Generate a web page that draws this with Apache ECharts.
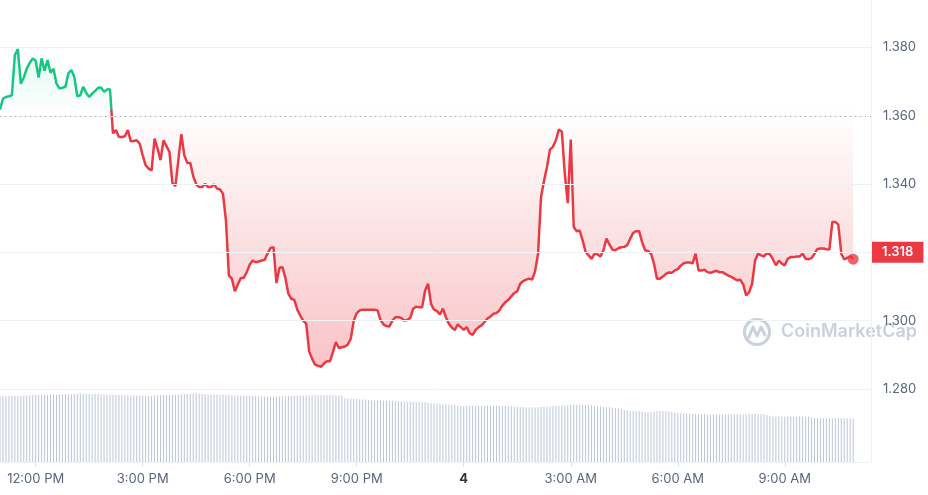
<!DOCTYPE html>
<html>
<head>
<meta charset="utf-8">
<script src="https://cdn.jsdelivr.net/npm/echarts@6/dist/echarts.min.js"></script>
<style>html,body{margin:0;padding:0;background:#fff}#c{width:928px;height:495px}</style>
</head>
<body>
<div id="c"></div>
<script>
// 5-minute samples starting 11:00 AM
const stepMinutes = 5;
const prices = [
1.3618,1.3650,1.3655,1.3657,1.3660,1.3778,1.3795,1.3694,1.3712,1.3738,
1.3755,1.3768,1.3761,1.3712,1.3768,1.3732,1.3763,1.3726,1.3738,1.3694,
1.3680,1.3682,1.3685,1.3724,1.3734,1.3714,1.3657,1.3660,1.3685,1.3667,
1.3655,1.3665,1.3673,1.3682,1.3683,1.3670,1.3677,1.3678,1.3548,1.3558,
1.3538,1.3538,1.3540,1.3558,1.3525,1.3526,1.3528,1.3518,1.3484,1.3455,
1.3445,1.3440,1.3533,1.3504,1.3470,1.3528,1.3511,1.3494,1.3403,1.3394,
1.3470,1.3546,1.3484,1.3462,1.3462,1.3423,1.3399,1.3391,1.3391,1.3401,
1.3391,1.3391,1.3399,1.3387,1.3384,1.3372,1.3294,1.3132,1.3123,1.3086,
1.3106,1.3125,1.3125,1.3142,1.3164,1.3176,1.3171,1.3173,1.3176,1.3178,
1.3196,1.3213,1.3215,1.3110,1.3154,1.3157,1.3125,1.3079,1.3064,1.3061,
1.3032,1.3015,1.3000,1.2991,1.2910,1.2888,1.2871,1.2868,1.2865,1.2875,
1.2881,1.2881,1.2908,1.2937,1.2920,1.2922,1.2924,1.2930,1.2947,1.3000,
1.3022,1.3030,1.3032,1.3032,1.3032,1.3032,1.3032,1.3030,1.3002,1.2989,
1.2984,1.2983,1.3000,1.3010,1.3010,1.3008,1.3000,1.3002,1.3008,1.3035,
1.3041,1.3039,1.3039,1.3088,1.3108,1.3049,1.3032,1.3028,1.3018,1.3035,
1.3010,1.2991,1.2979,1.2973,1.2989,1.2981,1.2973,1.2981,1.2963,1.2958,
1.2973,1.2981,1.2986,1.2996,1.3006,1.3012,1.3020,1.3022,1.3030,1.3044,
1.3054,1.3061,1.3071,1.3081,1.3086,1.3108,1.3116,1.3120,1.3123,1.3120,
1.3145,1.3196,1.3362,1.3409,1.3450,1.3501,1.3509,1.3528,1.3560,1.3553,
1.3430,1.3344,1.3530,1.3274,1.3262,1.3264,1.3235,1.3201,1.3191,1.3181,
1.3196,1.3194,1.3188,1.3206,1.3240,1.3223,1.3208,1.3206,1.3212,1.3215,
1.3216,1.3221,1.3240,1.3257,1.3262,1.3262,1.3230,1.3206,1.3204,1.3196,
1.3167,1.3123,1.3123,1.3129,1.3137,1.3141,1.3140,1.3147,1.3151,1.3161,
1.3168,1.3170,1.3170,1.3168,1.3196,1.3147,1.3147,1.3149,1.3142,1.3140,
1.3143,1.3146,1.3142,1.3142,1.3137,1.3132,1.3128,1.3123,1.3118,1.3120,
1.3106,1.3074,1.3083,1.3108,1.3176,1.3196,1.3191,1.3188,1.3198,1.3194,
1.3180,1.3162,1.3176,1.3167,1.3162,1.3181,1.3186,1.3186,1.3188,1.3188,
1.3196,1.3181,1.3180,1.3183,1.3196,1.3210,1.3211,1.3211,1.3209,1.3208,
1.3289,1.3289,1.3281,1.3196,1.3179,1.3184,1.3188,1.3180
];
const volumes = [
90.2,90.4,90.3,90.5,90.4,90.6,90.5,90.7,90.8,91.0,91.2,
91.5,91.7,91.8,91.9,92.0,92.2,
92.4,92.5,92.6,92.7,92.7,92.8,92.7,92.9,93.0,93.3,
94.1,
93.4,93.3,93.2,93.2,93.1,93.0,
92.6,92.4,92.2,92.0,91.9,91.8,91.8,91.7,91.6,91.5,91.4,91.2,91.0,
90.9,90.8,90.8,90.7,90.8,91.0,91.2,
91.5,91.7,91.8,91.9,92.1,92.3,92.5,92.8,
93.0,93.2,93.4,93.6,94.1,93.5,
93.0,92.8,92.6,92.5,92.4,92.3,92.2,92.1,92.0,91.8,91.5,
91.2,91.0,90.9,90.8,90.8,90.7,90.6,90.4,90.2,
89.9,89.7,89.5,89.5,89.4,89.5,89.7,90.0,
90.2,90.4,90.5,90.6,90.7,90.9,91.0,91.1,
91.3,91.4,91.5,91.5,91.6,91.5,91.4,91.5,91.4,91.3,91.2,91.0,
87.5,87.0,86.6,86.3,86.2,86.0,85.8,85.5,
84.8,84.5,84.3,84.2,84.1,84.0,84.0,83.9,83.8,83.6,83.3,
83.0,82.8,82.7,82.6,82.5,82.5,82.4,82.2,81.8,
81.0,80.6,80.4,80.2,79.6,
79.0,78.8,78.5,78.3,78.0,77.5,
77.0,76.8,76.7,76.6,76.7,76.9,
77.0,77.1,77.2,77.2,77.1,77.0,77.1,77.2,77.0,76.8,76.5,76.2,75.8,75.5,
75.2,75.0,74.9,74.8,74.8,74.9,75.1,75.4,
75.6,75.8,76.0,76.3,76.6,77.0,
77.3,77.6,77.8,78.0,78.3,
78.5,78.6,78.5,78.4,78.2,77.8,77.2,76.5,
75.8,75.3,75.0,74.9,74.6,74.0,73.2,72.2,
71.2,70.6,70.3,70.2,70.1,69.8,69.2,
68.5,68.2,68.1,
69.0,69.6,69.8,69.7,69.5,69.2,68.4,
67.4,66.9,66.7,66.6,66.5,66.4,66.0,
65.6,65.4,65.3,65.3,65.2,65.3,65.4,65.3,65.2,65.3,65.4,65.5,65.4,65.3,65.3,65.2,65.3,65.5,65.6,
65.8,66.0,65.9,65.7,65.4,64.5,
63.2,62.6,62.3,62.2,62.1,62.0,62.1,62.2,62.1,62.0,62.1,62.2,62.0,61.6,61.0,
60.4,60.1,60.0,59.9,59.9,60.0,59.9,59.8,59.9,60.0,59.9,59.8,59.7,59.6
];
// minutes after 11:00 AM
const xTickMinutes = [60, 240, 420, 600, 780, 960, 1140, 1320];
const xTickLabels = ['12:00 PM', '3:00 PM', '6:00 PM', '9:00 PM', '4', '3:00 AM', '6:00 AM', '9:00 AM'];
const yTicks = [1.28, 1.30, 1.32, 1.34, 1.36, 1.38];

const X_MAX = 1465;
const Y_MIN = 1.2586, Y_MAX = 1.3939;
const VOL_MAX = 100;
const GREEN = '#16c784', RED = '#ea3943';

const base = prices[0];
const last = prices[prices.length - 1];
const linePts = prices.map((p, i) => [i * stepMinutes, p]);
const volPts = volumes.map((v, i) => [i * stepMinutes, v]);

const chart = echarts.init(document.getElementById('c'));

function xFmt(v) {
  const k = xTickMinutes.indexOf(Math.round(v));
  if (k < 0) return '';
  const s = xTickLabels[k];
  return /^\d+$/.test(s) ? '{b|' + s + '}' : s;
}

const option = {
  animation: false,
  textStyle: { fontFamily: 'Inter' },
  grid: [
    { left: 0, right: 57, top: 0, bottom: 33 },
    { left: 0, right: 57, top: 389, bottom: 33 }
  ],
  xAxis: [
    {
      type: 'value', gridIndex: 0, min: 0, max: X_MAX,
      splitLine: { show: false },
      axisLine: { show: true, onZero: false, lineStyle: { color: '#eff2f5' } },
      axisTick: { show: true, customValues: xTickMinutes, length: 5, lineStyle: { color: '#dfe3ea' } },
      axisLabel: {
        customValues: xTickMinutes, formatter: xFmt, color: '#58667e', fontSize: 13, margin: 11,
        fontFamily: 'Inter',
        rich: { b: { fontWeight: 'bold', color: '#2e3545', fontSize: 13, fontFamily: 'Inter' } }
      }
    },
    { type: 'value', gridIndex: 1, min: 0, max: X_MAX, show: false }
  ],
  yAxis: [
    {
      type: 'value', gridIndex: 0, position: 'right', min: Y_MIN, max: Y_MAX, z: 5,
      axisLine: { show: true, onZero: false, lineStyle: { color: '#eff2f5' } },
      axisTick: { show: false, customValues: yTicks },
      axisLabel: { customValues: yTicks, formatter: v => v.toFixed(3), color: '#58667e', fontSize: 13, margin: 12, fontFamily: 'Inter' },
      splitLine: { show: true, lineStyle: { color: '#eff2f5' } }
    },
    { type: 'value', gridIndex: 1, min: 0, max: VOL_MAX, show: false }
  ],
  visualMap: [{
    type: 'piecewise', show: false, seriesIndex: 0, dimension: 1,
    pieces: [{ gt: 0, lt: base, color: RED }, { gte: base, lte: 10, color: GREEN }],
    outOfRange: { color: RED }
  }],
  graphic: [
    { type: 'circle', z: 0, shape: { cx: 757, cy: 332, r: 12.5 }, style: { fill: 'none', stroke: '#cbd1dc', lineWidth: 3.2 } },
    { type: 'polyline', z: 0, shape: { points: [[749, 337], [753, 327], [757, 336], [761, 327], [765, 335]] }, style: { fill: 'none', stroke: '#cbd1dc', lineWidth: 3, lineJoin: 'round', lineCap: 'round' } },
    { type: 'text', z: 0, x: 781, y: 332, style: { text: 'CoinMarketCap', fontSize: 18, fontWeight: 600, fontFamily: 'Inter', fill: '#cbd1dc', verticalAlign: 'middle' } }
  ],
  series: [
    {
      type: 'line', xAxisIndex: 0, yAxisIndex: 0, data: linePts,
      showSymbol: false, symbol: 'none', z: 3,
      lineStyle: { width: 2.5 },
      areaStyle: { origin: base, opacity: 1 },
      markLine: {
        silent: true, symbol: ['none', 'none'], animation: false, z: 10,
        data: [
          { yAxis: base, lineStyle: { color: '#9aa1ad', width: 1, type: [1, 4] }, label: { show: false } },
          {
            yAxis: last, lineStyle: { color: 'rgba(0,0,0,0)', width: 0 },
            label: {
              show: true, position: 'end', distance: 1, formatter: last.toFixed(3),
              backgroundColor: RED, color: '#ffffff', padding: [4, 10, 4, 10],
              fontSize: 13, fontWeight: 600, fontFamily: 'Inter'
            }
          }
        ]
      }
    },
    {
      type: 'scatter', xAxisIndex: 0, yAxisIndex: 0, z: 6,
      data: [linePts[linePts.length - 1]], symbolSize: 11,
      itemStyle: { color: RED }
    },
    {
      type: 'bar', xAxisIndex: 1, yAxisIndex: 1, data: volPts,
      barWidth: 1, itemStyle: { color: '#bcc5d8' }, z: 1
    }
  ]
};
chart.setOption(option);

// fill gradient in pixel space: green above the opening price, red below
const yTopPx = chart.convertToPixel({ yAxisIndex: 0 }, Y_MAX);
const yBasePx = chart.convertToPixel({ yAxisIndex: 0 }, base);
const yLowPx = chart.convertToPixel({ yAxisIndex: 0 }, Math.min.apply(null, prices));
const yBotPx = chart.convertToPixel({ yAxisIndex: 0 }, Y_MIN);
const span = yBotPx - yTopPx;
const offB = (yBasePx - yTopPx) / span;
const offL = (yLowPx - yTopPx) / span;
chart.setOption({
  series: [{
    areaStyle: {
      origin: base, opacity: 1,
      color: {
        type: 'linear', global: true, x: 0, y: yTopPx, x2: 0, y2: yBotPx,
        colorStops: [
          { offset: 0, color: 'rgba(22,199,132,0.22)' },
          { offset: offB, color: 'rgba(22,199,132,0.01)' },
          { offset: offB, color: 'rgba(234,57,67,0.0)' },
          { offset: offL, color: 'rgba(234,57,67,0.30)' },
          { offset: 1, color: 'rgba(234,57,67,0.34)' }
        ]
      }
    }
  }]
});
</script>
</body>
</html>
